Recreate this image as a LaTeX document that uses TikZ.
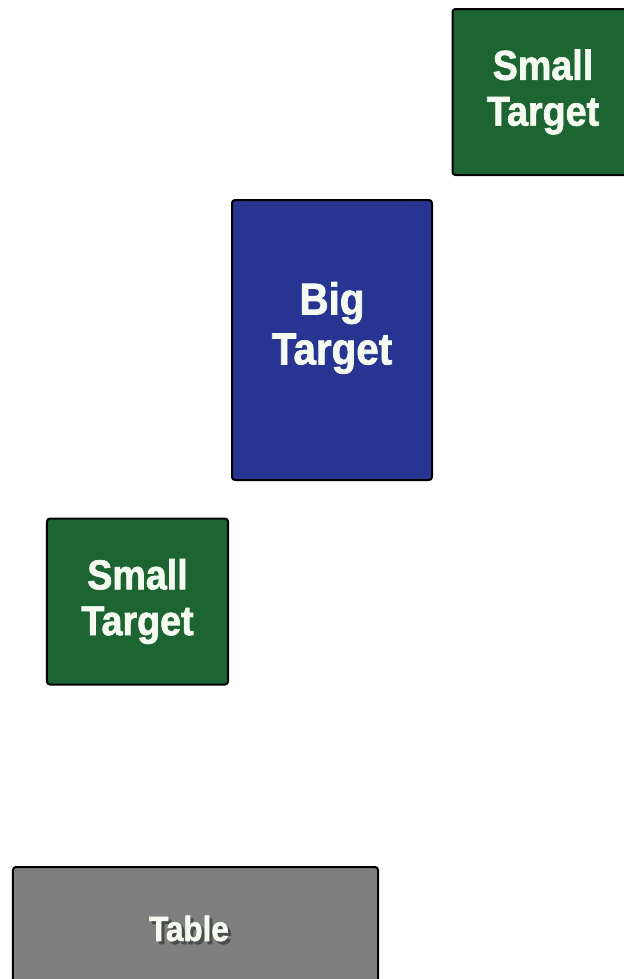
\documentclass[tikz,border=0pt]{standalone}
\usepackage{fontspec}
\setmainfont{Liberation Sans}[FakeStretch=0.9, BoldFeatures={FakeBold=1.6}]
\usetikzlibrary{positioning}

\definecolor{targetgreen}{RGB}{28,100,50}
\definecolor{targetblue}{RGB}{40,52,145}
\definecolor{tablegray}{RGB}{127,127,127}
\definecolor{labelwhite}{RGB}{244,250,240}

% white label with a dark drop shadow
\newcommand{\shadowlabel}[1]{\makebox[0pt][l]{\hspace{3bp}\raisebox{-3bp}{\textcolor{black!70}{#1}}}#1}

\tikzset{
    block/.style={draw=black, line width=2bp, rounded corners=3bp, inner sep=0pt,
        text=labelwhite, align=center},
    small target/.style={block, fill=targetgreen, minimum width=181bp, minimum height=166bp,
        font=\fontsize{42}{46}\selectfont\bfseries},
    big target/.style={block, fill=targetblue, minimum width=200bp, minimum height=280bp,
        font=\fontsize{45}{50}\selectfont\bfseries},
    table block/.style={block, fill=tablegray, minimum width=365bp, minimum height=150bp,
        font=\fontsize{35}{40}\selectfont\bfseries},
}

\begin{document}
\begin{tikzpicture}[x=1bp, y=-1bp]
    \useasboundingbox[fill=white] (0,0) rectangle (624,979);
    \node[small target] (top) at (543,92) {Small\\Target};
    \node[big target] (big) at (332,340) {};
    \node[align=center, text=labelwhite, font=\fontsize{45}{50}\selectfont\bfseries] (bigtext) at (332,328) {Big\\Target};
    \node[small target] (low) at (137.5,601.5) {Small\\Target};
    \node[table block] (table) at (195.5,942) {};
    \node[text=labelwhite, font=\fontsize{35}{40}\selectfont\bfseries] (tabletext) at (189,930) {\shadowlabel{Table}};
\end{tikzpicture}
\end{document}
